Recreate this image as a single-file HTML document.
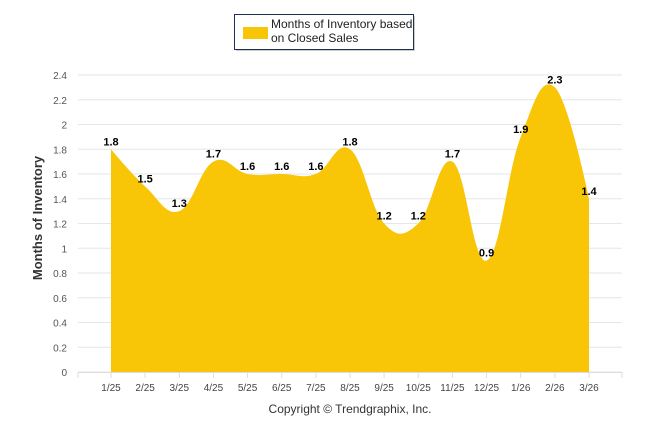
<!DOCTYPE html>
<html><head><meta charset="utf-8"><style>
body{margin:0;background:#fff;font-family:"Liberation Sans",sans-serif}
svg{display:block}
</style></head><body>
<svg id="c" width="646" height="434">
<g>
<rect x="236" y="16" width="179" height="35" fill="#999" opacity="0.5"/>
<rect x="234.5" y="14.5" width="179" height="35" fill="#fff" stroke="#1f2f4f" stroke-width="1"/>
<rect x="243" y="27" width="25" height="12" fill="#f8c507"/>
<text x="271" y="28" font-size="12" fill="#222">Months of Inventory based</text>
<text x="271" y="42" font-size="12" fill="#222">on Closed Sales</text>
</g>
<g id="grid"></g>
<g id="area"></g>
<g id="labels"></g>
<g id="axes"></g>
<text transform="translate(42,218) rotate(-90)" text-anchor="middle" font-size="13" font-weight="bold" fill="#333">Months of Inventory</text>
<text x="350" y="413" text-anchor="middle" font-size="12" fill="#333">Copyright © Trendgraphix, Inc.</text>
</svg>
<script>
const categories=["1/25","2/25","3/25","4/25","5/25","6/25","7/25","8/25","9/25","10/25","11/25","12/25","1/26","2/26","3/26"];
const values=[1.8,1.5,1.3,1.7,1.6,1.6,1.6,1.8,1.2,1.2,1.7,0.9,1.9,2.3,1.4];
const yTicks=[0,0.2,0.4,0.6,0.8,1,1.2,1.4,1.6,1.8,2,2.2,2.4];
const NS="http://www.w3.org/2000/svg";
const y0=372,yTop=75,yMax=2.4,x0=111,x1=589,left=78,right=622;
const X=i=>x0+(x1-x0)*i/(categories.length-1);
const Y=v=>y0-(y0-yTop)*v/yMax;
function mk(t,a,p){const e=document.createElementNS(NS,t);for(const k in a)e.setAttribute(k,a[k]);p.appendChild(e);return e;}
const grid=document.getElementById('grid'),axes=document.getElementById('axes'),area=document.getElementById('area'),labels=document.getElementById('labels');
yTicks.forEach(t=>{
 const l=mk('line',{x1:left,x2:right,y1:Y(t),y2:Y(t),stroke:'#e6e6e6','stroke-width':1},grid);
 
 
 const tx=mk('text',{x:67,y:Y(t)+4,'text-anchor':'end','font-size':10,fill:'#555'},axes);
 tx.textContent=String(t);
 
 
});
const ax=mk('line',{x1:left,x2:right,y1:y0+0.5,y2:y0+0.5,stroke:'#ddd'},axes);


categories.forEach((c,i)=>{
 const tk=mk('line',{x1:X(i),x2:X(i),y1:y0,y2:y0+6,stroke:'#ddd'},axes);
 
 
 const tx=mk('text',{x:X(i),y:y0+19,'text-anchor':'middle','font-size':10,fill:'#444'},axes);
 tx.textContent=c;
 
 
});
[left,right].forEach(x=>{const t=mk('line',{x1:x,x2:x,y1:y0,y2:y0+6,stroke:'#ddd'},axes);});
// spline (Highcharts-like)
const pts=values.map((v,i)=>[X(i),Y(v)]);
const sm=1.5,dv=sm+1;
let d=`M${pts[0][0]},${y0} L${pts[0][0]},${pts[0][1]}`;
function ctrl(i){ // returns [left control, right control] for point i
 const p=pts[i],a=pts[i-1],b=pts[i+1];
 if(!a||!b) return [p,p];
 let lx=(sm*p[0]+a[0])/dv,ly=(sm*p[1]+a[1])/dv,rx=(sm*p[0]+b[0])/dv,ry=(sm*p[1]+b[1])/dv;
 const cor=((ry-ly)*(rx-p[0]))/(rx-lx)+p[1]-ry;
 ly+=cor;ry+=cor;
 return [[lx,ly],[rx,ry]];
}
const C=pts.map((p,i)=>ctrl(i));
for(let i=1;i<pts.length;i++){
 const c1=C[i-1][1],c2=C[i][0];
 d+=` C${c1[0]},${c1[1]} ${c2[0]},${c2[1]} ${pts[i][0]},${pts[i][1]}`;
}
d+=` L${pts[pts.length-1][0]},${y0} Z`;
const ar=mk('path',{d:d,fill:'#f8c507'},area);


values.forEach((v,i)=>{
 const t=mk('text',{x:X(i),y:Y(v)-4,'text-anchor':'middle','font-size':11,'font-weight':'bold',fill:'#000'},labels);
 t.textContent=v.toFixed(1);
 
 
});
</script>
</body></html>
